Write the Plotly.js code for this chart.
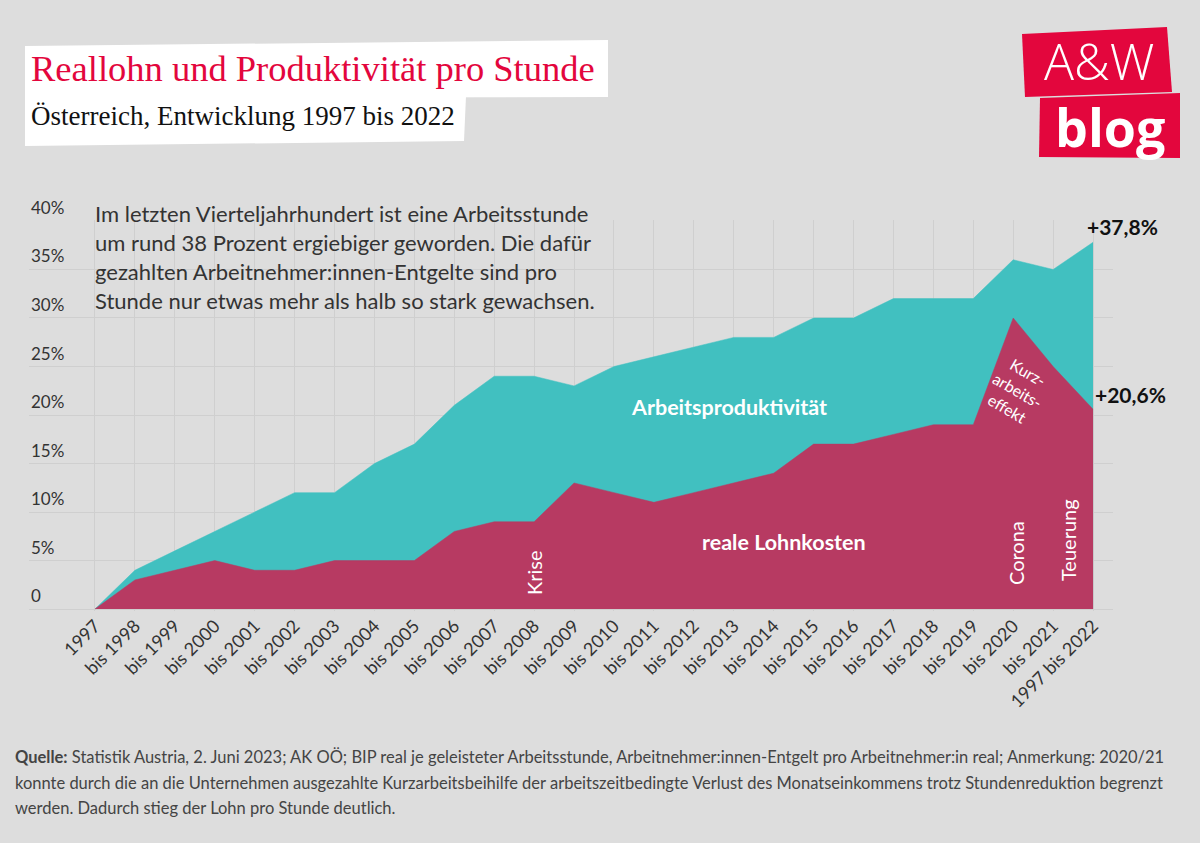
<!DOCTYPE html>
<html>
<head>
<meta charset="utf-8">
<script src="https://cdn.plot.ly/plotly-3.0.1.min.js"></script>
<style>
  html, body { margin: 0; padding: 0; background: #DDDDDD; }
  #chart { width: 1200px; height: 843px; }
</style>
</head>
<body>
<div id="chart"></div>
<script>
// ---- Data ----
const periods = ['1997','bis 1998','bis 1999','bis 2000','bis 2001','bis 2002','bis 2003','bis 2004','bis 2005','bis 2006','bis 2007','bis 2008','bis 2009','bis 2010','bis 2011','bis 2012','bis 2013','bis 2014','bis 2015','bis 2016','bis 2017','bis 2018','bis 2019','bis 2020','bis 2021','1997 bis 2022'];
const productivity = [0,4,6,8,10,12,12,15,17,21,24,24,23,25,26,27,28,28,30,30,32,32,32,36,35,37.8];
const wages = [0,3,4,5,4,4,5,5,5,8,9,9,13,12,11,12,13,14,17,17,18,19,19,30,25,20.6];
const yTickVals = [0,5,10,15,20,25,30,35,40];
const yTickText = ['0','5%','10%','15%','20%','25%','30%','35%','40%'];

const titleText = 'Reallohn und Produktivität pro Stunde';
const subtitleText = 'Österreich, Entwicklung 1997 bis 2022';
const introLines = [
  'Im letzten Vierteljahrhundert ist eine Arbeitsstunde',
  'um rund 38 Prozent ergiebiger geworden. Die dafür',
  'gezahlten Arbeitnehmer:innen-Entgelte sind pro',
  'Stunde nur etwas mehr als halb so stark gewachsen.'
];
const footerLines = [
  '<b>Quelle:</b> Statistik Austria, 2. Juni 2023; AK OÖ; BIP real je geleisteter Arbeitsstunde, Arbeitnehmer:innen-Entgelt pro Arbeitnehmer:in real; Anmerkung: 2020/21',
  'konnte durch die an die Unternehmen ausgezahlte Kurzarbeitsbeihilfe der arbeitszeitbedingte Verlust des Monatseinkommens trotz Stundenreduktion begrenzt',
  'werden. Dadurch stieg der Lohn pro Stunde deutlich.'
];
const seriesLabels = ['Arbeitsproduktivität', 'reale Lohnkosten'];
const endLabels = ['+37,8%', '+20,6%'];
const eventLabels = ['Krise', 'Corona', 'Teuerung'];
const kurzLabel = 'Kurz-<br>arbeits-<br>effekt';

// ---- Layout geometry ----
const W = 1200, H = 843;
const M = {l: 29, r: 87, t: 220, b: 232};
const plotW = W - M.l - M.r, plotH = H - M.t - M.b;
const px = x => (x - M.l) / plotW;
const py = y => ((H - M.b) - y) / plotH;

const teal = '#41C0C0';
const berry = '#B73A62';
const red = '#E3063D';
const sans = 'Lato, "Open Sans", sans-serif';

const traces = [
  {x: periods, y: productivity, type: 'scatter', mode: 'lines', fill: 'tozeroy',
   line: {color: teal, width: 0.5}, fillcolor: teal, hoverinfo: 'skip', showlegend: false},
  {x: periods, y: wages, type: 'scatter', mode: 'lines', fill: 'tozeroy',
   line: {color: berry, width: 0.5}, fillcolor: berry, hoverinfo: 'skip', showlegend: false}
];

function txt(x, y, text, font, extra) {
  return Object.assign({xref: 'paper', yref: 'paper', x: px(x), y: py(y), xanchor: 'center', yanchor: 'middle',
    showarrow: false, text: text, font: font}, extra || {});
}

const ann = [];
yTickVals.forEach((v, i) => ann.push({
  xref: 'paper', yref: 'y', x: 0, y: v, xanchor: 'left', yanchor: 'bottom', yshift: 1,
  text: yTickText[i], showarrow: false, font: {family: sans, size: 17, color: '#333'}
}));
introLines.forEach((t, i) => ann.push(txt(93, 213 + i * 29.3, t, {family: sans, size: 22, color: '#333'}, {xanchor: 'left'})));
footerLines.forEach((t, i) => ann.push(txt(13, 757 + i * 25.5, t, {family: sans, size: 16.5, color: '#444'}, {xanchor: 'left'})));
// end-value labels
ann.push({xref: 'x', yref: 'y', x: periods.length - 1, y: productivity[productivity.length - 1],
  xanchor: 'left', yanchor: 'bottom', xshift: -8, yshift: 1, showarrow: false,
  text: '<b>' + endLabels[0] + '</b>', font: {family: sans, size: 21, color: '#111'}});
ann.push({xref: 'x', yref: 'y', x: periods.length - 1, y: wages[wages.length - 1],
  xanchor: 'left', yanchor: 'bottom', xshift: 0, yshift: 0, showarrow: false,
  text: '<b>' + endLabels[1] + '</b>', font: {family: sans, size: 21, color: '#111'}});
// series labels
ann.push(txt(729, 407, '<b>' + seriesLabels[0] + '</b>', {family: sans, size: 21.5, color: '#fff'}));
ann.push(txt(784, 542, '<b>' + seriesLabels[1] + '</b>', {family: sans, size: 21.5, color: '#fff'}));
// event labels (rotated)
ann.push(txt(534, 573, eventLabels[0], {family: sans, size: 20, color: '#fff'}, {textangle: -90}));
ann.push(txt(1016, 553, eventLabels[1], {family: sans, size: 20, color: '#fff'}, {textangle: -90}));
ann.push(txt(1068, 540, eventLabels[2], {family: sans, size: 20, color: '#fff'}, {textangle: -90}));
ann.push(txt(1018, 390, kurzLabel, {family: sans, size: 16, color: '#fff'}, {textangle: 30, align: 'center'}));
// titles
ann.push(txt(29, 68, titleText, {family: '"Liberation Serif", serif', size: 36.5, color: red}, {xanchor: 'left'}));
ann.push(txt(29, 116, subtitleText, {family: '"Liberation Serif", serif', size: 27, color: '#111'}, {xanchor: 'left'}));
// logo text
ann.push(txt(1099, 61, 'A&amp;W', {family: '"Open Sans", sans-serif', size: 50, color: '#fff', weight: 300}));
ann.push(txt(1110, 126, '<b>blog</b>', {family: '"Open Sans", sans-serif', size: 52, color: '#fff'}));

function poly(pts) {
  return 'M ' + pts.map(p => px(p[0]) + ',' + py(p[1])).join(' L ') + ' Z';
}
const shapes = [
  {type: 'path', xref: 'paper', yref: 'paper', layer: 'below', line: {width: 0}, fillcolor: '#fff',
   path: poly([[25, 46], [608, 40], [608, 97], [25, 98]])},
  {type: 'path', xref: 'paper', yref: 'paper', layer: 'below', line: {width: 0}, fillcolor: '#fff',
   path: poly([[25, 97], [466, 96], [464, 141], [25, 146]])},
  {type: 'path', xref: 'paper', yref: 'paper', layer: 'above', line: {width: 0}, fillcolor: red,
   path: poly([[1022, 34], [1167, 27], [1172, 92], [1025, 97]])},
  {type: 'path', xref: 'paper', yref: 'paper', layer: 'above', line: {width: 0}, fillcolor: red,
   path: poly([[1040, 98], [1180, 93], [1180, 158], [1039, 157]])}
];

const layout = {
  width: W, height: H,
  margin: M,
  paper_bgcolor: '#DDDDDD', plot_bgcolor: 'rgba(0,0,0,0)',
  showlegend: false,
  xaxis: {
    type: 'category', range: [-1.653, 25.5], tickmode: 'linear', tick0: 0, dtick: 1,
    showgrid: true, gridcolor: '#CFCFCF', gridwidth: 1, zeroline: false, showline: false,
    ticks: '', tickangle: -45, tickfont: {family: sans, size: 18, color: '#333'}, fixedrange: true
  },
  yaxis: {
    range: [-0.2, 40.1], tickmode: 'array', tickvals: yTickVals, showticklabels: false,
    showgrid: true, gridcolor: '#CFCFCF', gridwidth: 1, zeroline: false, showline: false, ticks: '', fixedrange: true
  },
  annotations: ann,
  shapes: shapes
};

Plotly.newPlot('chart', traces, layout, {staticPlot: true, displayModeBar: false});
</script>
</body>
</html>
